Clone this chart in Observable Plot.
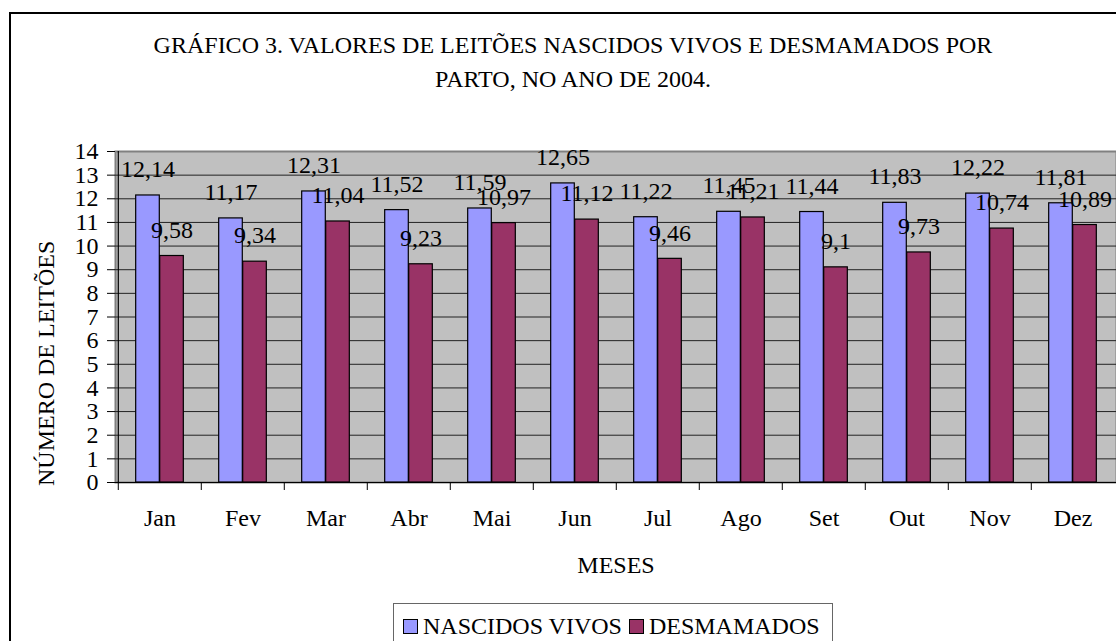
<!DOCTYPE html>
<html>
<head>
<meta charset="utf-8">
<script src="https://cdn.jsdelivr.net/npm/d3@7"></script>
<script src="https://cdn.jsdelivr.net/npm/@observablehq/plot@0.6"></script>
<style>
  html, body { margin: 0; padding: 0; background: #fff; }
  #wrap { position: relative; width: 1116px; height: 641px; overflow: hidden; background: #fff;
          font-family: "Liberation Serif", "Times New Roman", serif; color: #000; }
  #border { position: absolute; left: 9px; top: 12px; width: 1200px; height: 700px; border: 2px solid #000; }
  #title { position: absolute; left: 0; top: 28px; width: 1146px; text-align: center; font-size: 24px; line-height: 34px; }
  #chart { position: absolute; left: 0; top: 0; }
  #legend { position: absolute; left: 393px; top: 603px; width: 438px; height: 60px; border: 1px solid #666;
            font-size: 24px; line-height: 24px; background: #fff; }
  #legend .items { position: absolute; left: 9px; top: 10px; display: flex; align-items: center; white-space: nowrap; }
  #legend .sw { display: inline-block; width: 13px; height: 13px; border: 1px solid #000; margin-right: 5px; }
  #legend .item { display: flex; align-items: center; margin-right: 7px; }
</style>
</head>
<body>
<div id="wrap">
  <div id="border"></div>
  <div id="chart"></div>
  <div id="title"></div>
  <div id="legend"><div class="items"></div></div>
</div>
<script>
const titleLines = ["GRÁFICO 3. VALORES DE LEITÕES NASCIDOS VIVOS E DESMAMADOS POR", "PARTO, NO ANO DE 2004."];
const months = ["Jan", "Fev", "Mar", "Abr", "Mai", "Jun", "Jul", "Ago", "Set", "Out", "Nov", "Dez"];
const nascidosVivos = [12.14, 11.17, 12.31, 11.52, 11.59, 12.65, 11.22, 11.45, 11.44, 11.83, 12.22, 11.81];
const desmamados = [9.58, 9.34, 11.04, 9.23, 10.97, 11.12, 9.46, 11.21, 9.1, 9.73, 10.74, 10.89];
const seriesNames = ["NASCIDOS VIVOS", "DESMAMADOS"];
const seriesColors = ["#9999ff", "#993366"];
const yTicks = [0, 1, 2, 3, 4, 5, 6, 7, 8, 9, 10, 11, 12, 13, 14];
const xLabel = "MESES";
const yLabel = "NÚMERO DE LEITÕES";

const data = months.map((m, i) => ({month: m, nascidos: nascidosVivos[i], desmamados: desmamados[i]}));
const fmt = v => String(v).replace(".", ",");

const W = 1116, H = 641, mL = 115, mR = 0, mT = 151, mB = 159;
const step = (W - mL - mR) / months.length;
const outer = step * 0.212;           // gap before first bar / after second bar
const barW = (step - 2 * outer) / 2;  // width of each bar
const font = "'Liberation Serif', 'Times New Roman', serif";
const fs = 24;

const chart = Plot.plot({
  width: W, height: H,
  marginLeft: mL, marginRight: mR, marginTop: mT, marginBottom: mB,
  style: {background: "transparent", fontFamily: font, fontSize: fs + "px", color: "#000"},
  x: {domain: months, padding: 0, label: null},
  y: {domain: [0, 14], label: null},
  marks: [
    Plot.frame({fill: "#c0c0c0", stroke: "#808080", strokeWidth: 2}),
    Plot.ruleY(yTicks.slice(1, -1), {stroke: "#222", strokeWidth: 1}),
    Plot.barY(data, {x: "month", y: "nascidos", fill: seriesColors[0], stroke: "#000", strokeWidth: 1.2,
                     insetLeft: outer, insetRight: outer + barW}),
    Plot.barY(data, {x: "month", y: "desmamados", fill: seriesColors[1], stroke: "#000", strokeWidth: 1.2,
                     insetLeft: outer + barW, insetRight: outer}),
    Plot.ruleX([0], {x: () => months[0], dx: -step / 2, stroke: "#000", strokeWidth: 1.2}),
    Plot.ruleY([0], {stroke: "#000", strokeWidth: 1.2}),
    Plot.ruleX(months, {x: d => d, dx: -step / 2, y1: 0, y2: 0, insetTop: 0, insetBottom: -8, stroke: "#000"}),
    Plot.axisY({ticks: yTicks, tickSize: 8, tickPadding: 9, fontSize: fs, fontFamily: font, label: null, stroke: "#000"}),
    Plot.axisX({tickSize: 0, tickPadding: 26, fontSize: fs, fontFamily: font, label: xLabel, labelAnchor: "center", labelArrow: "none", labelOffset: 90}),
    Plot.text(data, {x: "month", y: "nascidos", text: d => fmt(d.nascidos), dx: -barW / 2, dy: -26, fontSize: fs, fontFamily: font, fill: "#000"}),
    Plot.text(data, {x: "month", y: "desmamados", text: d => fmt(d.desmamados), dx: barW / 2, dy: -26, fontSize: fs, fontFamily: font, fill: "#000"}),
    Plot.text([yLabel], {text: d => d, frameAnchor: "left", textAnchor: "start", rotate: -90, dx: -69, dy: 169, fontSize: fs, fontFamily: font, fill: "#000"})
  ]
});
document.getElementById("chart").appendChild(chart);

document.getElementById("title").innerHTML = titleLines.join("<br>");
const items = document.querySelector("#legend .items");
seriesNames.forEach((name, i) => {
  const it = document.createElement("div");
  it.className = "item";
  const sw = document.createElement("span");
  sw.className = "sw";
  sw.style.background = seriesColors[i];
  const t = document.createElement("span");
  t.textContent = name;
  it.appendChild(sw); it.appendChild(t);
  items.appendChild(it);
});
</script>
</body>
</html>
